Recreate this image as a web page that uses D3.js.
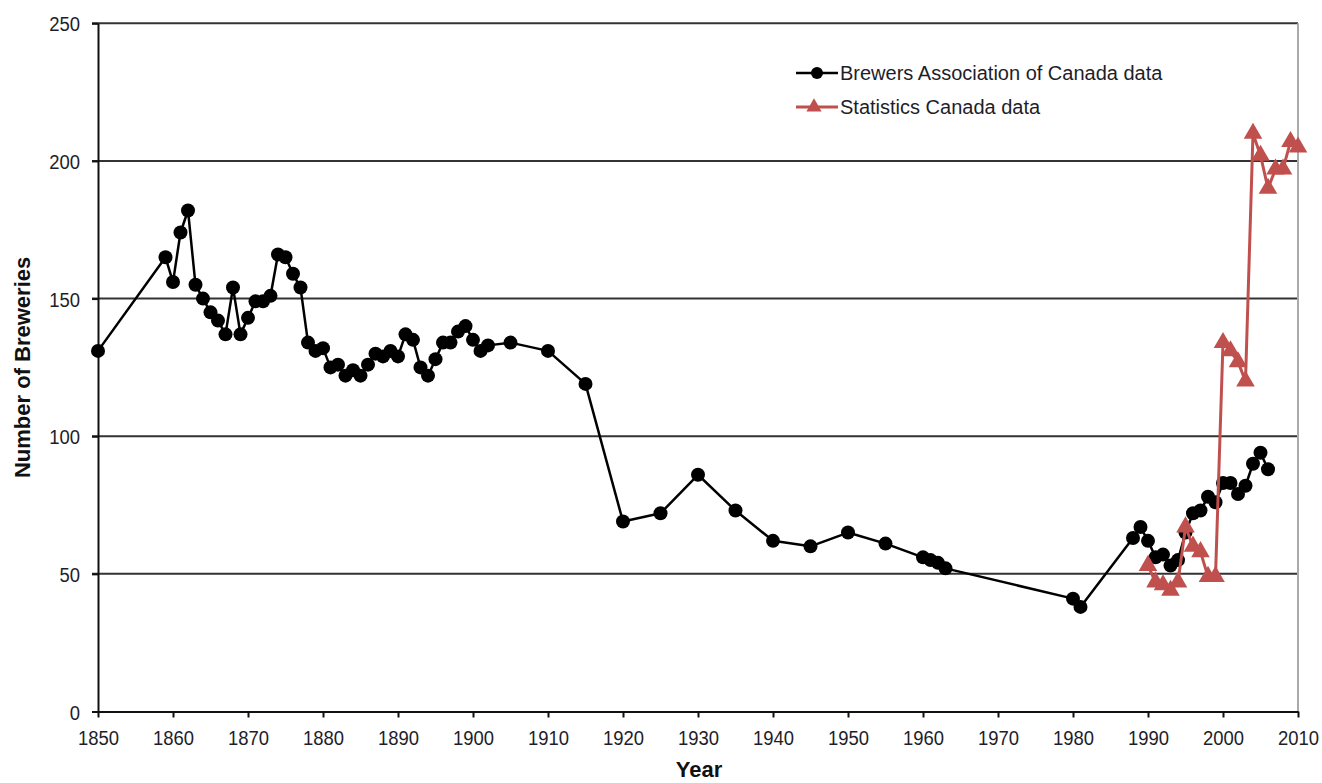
<!DOCTYPE html>
<html>
<head>
<meta charset="utf-8">
<script src="https://cdn.jsdelivr.net/npm/d3@7"></script>
<style>
  html, body { margin: 0; padding: 0; background: #fff; }
  svg { display: block; font-family: "Liberation Sans", Arial, sans-serif; }
</style>
</head>
<body>
<svg id="chart" width="1322" height="783"></svg>
<script>
// Brewers Association of Canada: number of breweries by year
const baYears = [1850, 1859, 1860, 1861, 1862, 1863, 1864, 1865, 1866, 1867, 1868, 1869,
  1870, 1871, 1872, 1873, 1874, 1875, 1876, 1877, 1878, 1879, 1880, 1881, 1882, 1883,
  1884, 1885, 1886, 1887, 1888, 1889, 1890, 1891, 1892, 1893, 1894, 1895, 1896, 1897,
  1898, 1899, 1900, 1901, 1902, 1905, 1910, 1915, 1920, 1925, 1930, 1935, 1940, 1945,
  1950, 1955, 1960, 1961, 1962, 1963, 1980, 1981, 1988, 1989, 1990, 1991, 1992, 1993,
  1994, 1995, 1996, 1997, 1998, 1999, 2000, 2001, 2002, 2003, 2004, 2005, 2006];
const baCounts = [131, 165, 156, 174, 182, 155, 150, 145, 142, 137, 154, 137,
  143, 149, 149, 151, 166, 165, 159, 154, 134, 131, 132, 125, 126, 122,
  124, 122, 126, 130, 129, 131, 129, 137, 135, 125, 122, 128, 134, 134,
  138, 140, 135, 131, 133, 134, 131, 119, 69, 72, 86, 73, 62, 60,
  65, 61, 56, 55, 54, 52, 41, 38, 63, 67, 62, 56, 57, 53,
  55, 65, 72, 73, 78, 76, 83, 83, 79, 82, 90, 94, 88];

// Statistics Canada: number of breweries by year
const scYears = [1990, 1991, 1992, 1993, 1994, 1995, 1996, 1997, 1998, 1999, 2000,
  2001, 2002, 2003, 2004, 2005, 2006, 2007, 2008, 2009, 2010];
const scCounts = [53, 47, 46, 44, 47, 67, 60, 58, 49, 49, 134,
  131, 127, 120, 210, 202, 190, 197, 197, 207, 205];

const seriesNames = ["Brewers Association of Canada data", "Statistics Canada data"];
const yTicks = [0, 50, 100, 150, 200, 250];
const xTicks = d3.range(1850, 2011, 10);

const svg = d3.select("#chart");
const plotL = 98, plotR = 1298, plotT = 23.3, plotB = 711.5;

const x = d3.scaleLinear().domain([1850, 2010]).range([plotL, plotR]);
const y = d3.scaleLinear().domain([0, 250]).range([plotB, plotT]);

const textColor = "#1e1e2a";
const red = "#c0504d";
const tickSquash = 0.88; // tick labels are set in a narrowed face

// horizontal gridlines (extend a few px left of the axis as tick marks)
svg.append("g").selectAll("line").data(yTicks.filter(d => d > 0)).join("line")
  .attr("x1", plotL - 6).attr("x2", plotR)
  .attr("y1", d => y(d)).attr("y2", d => y(d))
  .attr("stroke", "#333").attr("stroke-width", 2);

// right frame edge
svg.append("line")
  .attr("x1", plotR).attr("x2", plotR).attr("y1", plotT).attr("y2", plotB)
  .attr("stroke", "#aaa").attr("stroke-width", 2);

// y axis
const yAxis = svg.append("g")
  .attr("transform", `translate(${plotL},0)`)
  .call(d3.axisLeft(y).tickValues(yTicks).tickSize(6).tickSizeOuter(0));
yAxis.select(".domain").attr("stroke", "#111").attr("stroke-width", 2);
yAxis.selectAll(".tick line").attr("stroke", "#111").attr("stroke-width", 2);
yAxis.selectAll(".tick text")
  .attr("fill", textColor).style("font-size", "21px")
  .attr("x", -18 / tickSquash).attr("dy", "0.36em")
  .attr("transform", `scale(${tickSquash},1)`);

// x axis
const xAxis = svg.append("g")
  .attr("transform", `translate(0,${plotB})`)
  .call(d3.axisBottom(x).tickValues(xTicks).tickFormat(d3.format("d")).tickSize(6).tickSizeOuter(0));
xAxis.select(".domain").attr("stroke", "#111").attr("stroke-width", 2);
xAxis.selectAll(".tick line").attr("stroke", "#111").attr("stroke-width", 2);
xAxis.selectAll(".tick text")
  .attr("fill", textColor).style("font-size", "21px").attr("y", 34).attr("dy", 0)
  .attr("transform", `scale(${tickSquash},1)`);

// axis titles
svg.append("text")
  .attr("transform", `translate(30,${(plotT + plotB) / 2}) rotate(-90)`)
  .attr("text-anchor", "middle")
  .style("font-size", "22px").style("font-weight", "bold").attr("fill", "#111")
  .text("Number of Breweries");
svg.append("text")
  .attr("x", 699).attr("y", 777)
  .attr("text-anchor", "middle")
  .style("font-size", "22px").style("font-weight", "bold").attr("fill", "#111")
  .text("Year");

const baData = baYears.map((yr, i) => ({ yr, v: baCounts[i] }));
const scData = scYears.map((yr, i) => ({ yr, v: scCounts[i] }));
const line = d3.line().x(d => x(d.yr)).y(d => y(d.v));
const tri = d3.symbol().type(d3.symbolTriangle).size(150);

// Brewers Association series
svg.append("path").datum(baData)
  .attr("d", line).attr("fill", "none")
  .attr("stroke", "#000").attr("stroke-width", 2.5).attr("stroke-linejoin", "round");
svg.append("g").selectAll("circle").data(baData).join("circle")
  .attr("cx", d => x(d.yr)).attr("cy", d => y(d.v)).attr("r", 7)
  .attr("fill", "#000");

// Statistics Canada series
svg.append("path").datum(scData)
  .attr("d", line).attr("fill", "none")
  .attr("stroke", red).attr("stroke-width", 3).attr("stroke-linejoin", "round");
svg.append("g").selectAll("path").data(scData).join("path")
  .attr("d", tri)
  .attr("transform", d => `translate(${x(d.yr)},${y(d.v)})`)
  .attr("fill", red);

// legend
const legend = svg.append("g");
const rows = [
  { name: seriesNames[0], color: "#000", mark: "circle", cy: 73 },
  { name: seriesNames[1], color: red, mark: "triangle", cy: 107 }
];
rows.forEach(r => {
  legend.append("line")
    .attr("x1", 796).attr("x2", 838).attr("y1", r.cy).attr("y2", r.cy)
    .attr("stroke", r.color).attr("stroke-width", r.mark === "circle" ? 2.5 : 3);
  if (r.mark === "circle") {
    legend.append("circle").attr("cx", 817).attr("cy", r.cy).attr("r", 6).attr("fill", r.color);
  } else {
    legend.append("path").attr("d", d3.symbol().type(d3.symbolTriangle).size(100))
      .attr("transform", `translate(814,${r.cy})`).attr("fill", r.color);
  }
  legend.append("text")
    .attr("x", 840).attr("y", r.cy + 7)
    .style("font-size", "20px").attr("fill", textColor)
    .text(r.name);
});
</script>
</body>
</html>
